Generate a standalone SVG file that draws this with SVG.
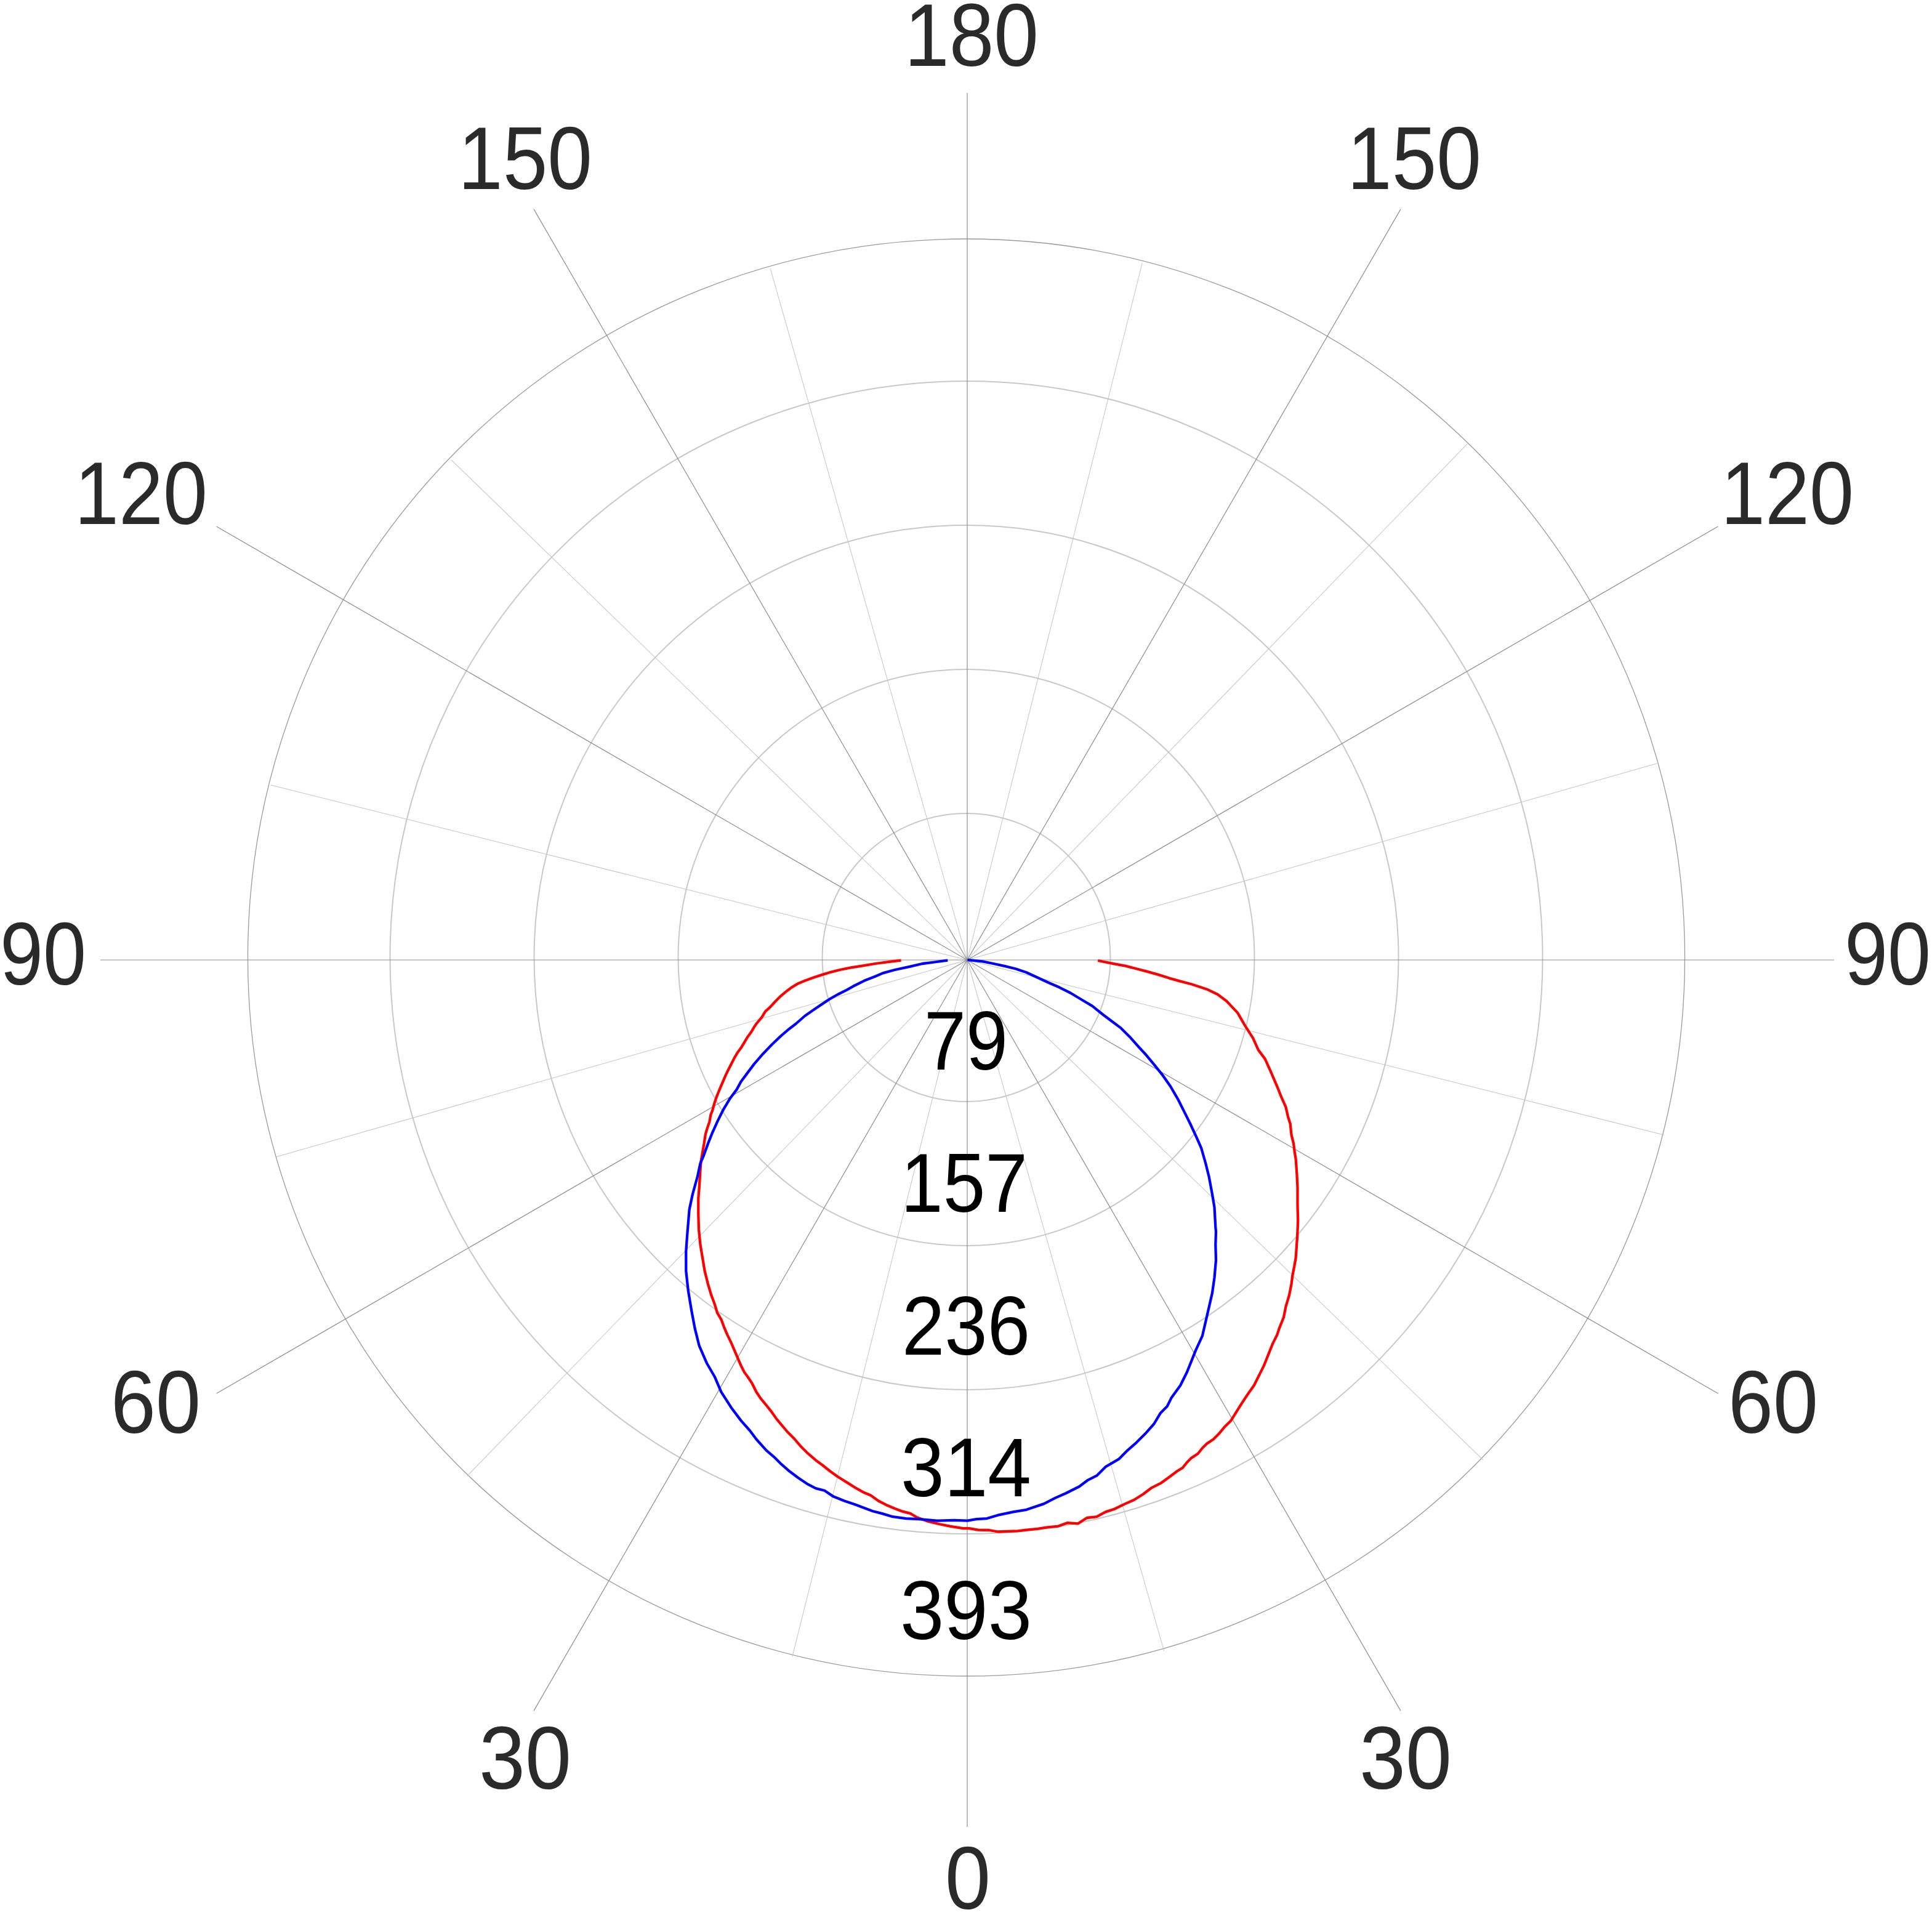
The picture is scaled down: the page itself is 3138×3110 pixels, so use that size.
<svg xmlns="http://www.w3.org/2000/svg" width="3138" height="3110" viewBox="0 0 3138 3110">
<style>
.ring{fill:none;stroke:#c8c8c8;stroke-width:2}
.outer{fill:none;stroke:#9a9a9a;stroke-width:1.3}
.major{stroke:#8c8c8c;stroke-width:1.2}
.minor{stroke:#c4c4c4;stroke-width:1}
.ang{font-family:"Liberation Sans",Arial,sans-serif;font-size:145px;fill:#2a2a2a;text-anchor:middle}
.val{font-family:"Liberation Sans",Arial,sans-serif;font-size:135px;fill:#000;text-anchor:middle}
.curve{fill:none;stroke-width:12;stroke-linejoin:round;stroke-linecap:butt}
</style>
<rect width="3138" height="3110" fill="#fff"/>
<g id="rings">
<circle class="ring" cx="1569.5" cy="1555" r="234"/>
<circle class="ring" cx="1569.5" cy="1555" r="468"/>
<circle class="ring" cx="1569.5" cy="1555" r="702"/>
<circle class="ring" cx="1569.5" cy="1555" r="936"/>
<circle class="outer" cx="1569.5" cy="1555" r="1167"/>
</g>
<g id="minor-lines" transform="rotate(-0.9 1571 1559)">
<line class="minor" x1="1571" y1="1559" x2="1269" y2="2686.2"/>
<line class="minor" x1="1571" y1="1559" x2="1873" y2="2686.2"/>
<line class="minor" x1="1571" y1="1559" x2="1269" y2="431.8"/>
<line class="minor" x1="1571" y1="1559" x2="1873" y2="431.8"/>
<line class="minor" x1="1571" y1="1559" x2="745.8" y2="2384.2"/>
<line class="minor" x1="1571" y1="1559" x2="2396.2" y2="2384.2"/>
<line class="minor" x1="1571" y1="1559" x2="745.8" y2="733.8"/>
<line class="minor" x1="1571" y1="1559" x2="2396.2" y2="733.8"/>
<line class="minor" x1="1571" y1="1559" x2="443.8" y2="1861"/>
<line class="minor" x1="1571" y1="1559" x2="2698.2" y2="1861"/>
<line class="minor" x1="1571" y1="1559" x2="443.8" y2="1257"/>
<line class="minor" x1="1571" y1="1559" x2="2698.2" y2="1257"/>
</g>
<g id="major-lines">
<line class="major" x1="1571" y1="1559" x2="1571" y2="2967"/>
<line class="major" x1="1571" y1="1559" x2="867" y2="2778.4"/>
<line class="major" x1="1571" y1="1559" x2="2275" y2="2778.4"/>
<line class="major" x1="1571" y1="1559" x2="351.6" y2="2263"/>
<line class="major" x1="1571" y1="1559" x2="2790.4" y2="2263"/>
<line class="major" x1="163" y1="1559" x2="2979" y2="1559"/>
<line class="major" x1="1571" y1="1559" x2="351.6" y2="855"/>
<line class="major" x1="1571" y1="1559" x2="2790.4" y2="855"/>
<line class="major" x1="1571" y1="1559" x2="867" y2="339.6"/>
<line class="major" x1="1571" y1="1559" x2="2275" y2="339.6"/>
<line class="major" x1="1571" y1="1559" x2="1571" y2="151"/>
</g>
<g id="angle-labels">
<text class="ang" x="1578" y="107" textLength="218" lengthAdjust="spacingAndGlyphs">180</text>
<text class="ang" x="853" y="307" textLength="218" lengthAdjust="spacingAndGlyphs">150</text>
<text class="ang" x="2297" y="307" textLength="218" lengthAdjust="spacingAndGlyphs">150</text>
<text class="ang" x="229" y="851" textLength="216" lengthAdjust="spacingAndGlyphs">120</text>
<text class="ang" x="2903" y="851" textLength="216" lengthAdjust="spacingAndGlyphs">120</text>
<text class="ang" x="70" y="1599" textLength="140" lengthAdjust="spacingAndGlyphs">90</text>
<text class="ang" x="3066" y="1599" textLength="140" lengthAdjust="spacingAndGlyphs">90</text>
<text class="ang" x="253" y="2327" textLength="146" lengthAdjust="spacingAndGlyphs">60</text>
<text class="ang" x="2880" y="2327" textLength="146" lengthAdjust="spacingAndGlyphs">60</text>
<text class="ang" x="853" y="2905" textLength="150" lengthAdjust="spacingAndGlyphs">30</text>
<text class="ang" x="2283" y="2905" textLength="150" lengthAdjust="spacingAndGlyphs">30</text>
<text class="ang" x="1572" y="3100" textLength="74" lengthAdjust="spacingAndGlyphs">0</text>
</g>
<g id="value-labels">
<text class="val" x="1569" y="1737" textLength="136" lengthAdjust="spacingAndGlyphs">79</text>
<text class="val" x="1566" y="1968" textLength="206" lengthAdjust="spacingAndGlyphs">157</text>
<text class="val" x="1569" y="2200" textLength="208" lengthAdjust="spacingAndGlyphs">236</text>
<text class="val" x="1569" y="2430" textLength="212" lengthAdjust="spacingAndGlyphs">314</text>
<text class="val" x="1569" y="2662" textLength="214" lengthAdjust="spacingAndGlyphs">393</text>
</g>
<g id="curves" transform="translate(1050,1500) scale(0.357142857)">
<path id="curve-red" class="curve" stroke="#ff0000" d="M1158,167 L1100,174 1040,182 980,192 930,200 880,210 840,220 800,232 760,245 720,260 690,272 660,290 640,305 610,330 585,355 560,382 540,400 525,425 500,455 490,470 475,495 460,515 445,540 430,565 415,585 400,610 385,640 372,665 360,690 345,725 330,760 318,790 308,820 300,850 292,870 287,900 275,935 268,960 262,1000 255,1040 248,1080 245,1120 240,1200 236,1250 236,1320 238,1390 245,1460 255,1520 265,1580 280,1640 295,1690 310,1730 322,1770 340,1800 355,1840 368,1870 385,1905 400,1940 415,1975 430,2010 445,2040 460,2060 480,2090 500,2130 520,2160 545,2190 565,2215 590,2250 615,2280 640,2310 670,2340 700,2375 735,2410 770,2440 800,2462 835,2490 870,2515 910,2540 950,2565 985,2585 1020,2600 1055,2625 1090,2643 1130,2660 1165,2673 1200,2682 1230,2700 1280,2718 1330,2730 1380,2740 1440,2750 1468,2750 1508,2757 1558,2758 1598,2765 1648,2763 1688,2762 1728,2757 1778,2752 1823,2745 1873,2740 1913,2725 1963,2728 2003,2702 2048,2697 2088,2675 2128,2662 2173,2640 2218,2620 2258,2595 2298,2565 2338,2545 2373,2520 2413,2490 2438,2475 2458,2450 2478,2430 2508,2410 2528,2385 2548,2365 2578,2345 2603,2320 2628,2290 2658,2260 2683,2220 2708,2180 2738,2135 2763,2100 2788,2050 2808,2010 2828,1960 2848,1910 2868,1870 2878,1840 2898,1790 2908,1740 2923,1690 2933,1640 2938,1600 2946,1560 2953,1520 2960,1420 2963,1350 2961,1280 2961,1200 2958,1140 2953,1070 2948,1040 2943,1000 2933,960 2928,910 2918,880 2908,835 2888,790 2868,740 2838,670 2813,615 2783,575 2758,520 2723,465 2688,405 2638,352 2598,322 2548,298 2478,275 2428,262 2378,248 2328,232 2278,218 2228,205 2178,192 2128,183 2053,168"/>
<path id="curve-blue" class="curve" stroke="#0000ff" d="M1370,167 L1310,175 1255,182 1200,195 1130,210 1075,225 1040,240 990,260 940,285 910,302 870,322 830,345 800,365 760,392 720,420 680,455 650,478 610,512 570,550 530,592 490,638 460,678 430,718 410,755 380,795 350,845 325,895 300,950 280,1000 260,1055 245,1090 232,1150 210,1230 195,1300 190,1360 185,1420 180,1490 180,1580 190,1670 205,1760 220,1840 240,1920 275,2000 310,2060 340,2130 385,2200 430,2260 470,2305 500,2345 545,2395 580,2425 610,2455 650,2490 690,2520 735,2550 770,2568 810,2578 850,2605 900,2625 950,2642 985,2655 1030,2672 1070,2682 1120,2697 1180,2705 1240,2708 1320,2715 1400,2713 1460,2715 1500,2708 1548,2705 1598,2690 1668,2675 1728,2665 1808,2638 1858,2612 1908,2590 1968,2560 2008,2530 2048,2510 2088,2470 2148,2435 2188,2395 2228,2360 2268,2320 2308,2275 2338,2225 2368,2195 2388,2155 2428,2100 2458,2040 2478,1990 2498,1940 2528,1875 2543,1810 2558,1745 2573,1680 2583,1610 2590,1530 2588,1460 2590,1400 2588,1380 2583,1290 2573,1230 2558,1150 2543,1090 2523,1020 2503,975 2473,910 2448,860 2418,800 2383,740 2348,690 2308,640 2273,598 2238,560 2198,515 2158,475 2118,445 2078,415 2028,375 1978,345 1928,315 1878,290 1828,268 1778,245 1728,222 1678,205 1628,193 1578,182 1528,172 1460,165"/>
</g>
</svg>
